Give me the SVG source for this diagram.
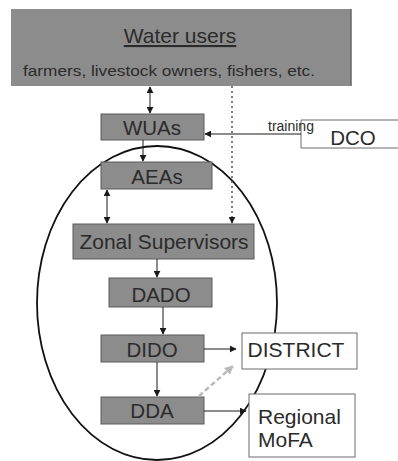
<svg xmlns="http://www.w3.org/2000/svg" width="398" height="461" viewBox="0 0 398 461">
  <style>
    .box { fill: #8c8c8c; stroke: #5a5a5a; stroke-width: 1; }
    .wbox { fill: #ffffff; stroke: #6a6a6a; stroke-width: 1; }
    .lbl { font-family: "Liberation Sans", Arial, sans-serif; font-size: 20.5px; fill: #2b2b2b; text-anchor: middle; }
    .big { font-size: 21px; }
    .sub { font-size: 15.5px; }
    .tiny { font-size: 14px; }
    .lft { text-anchor: start; }
    .ln { stroke: #1a1a1a; stroke-width: 1; fill: none; }
  </style>
  <defs>
    <marker id="ah" viewBox="0 0 10 10" refX="9" refY="5" markerWidth="7" markerHeight="7" markerUnits="userSpaceOnUse" orient="auto-start-reverse">
      <path d="M0,0 L10,5 L0,10 z" fill="#1a1a1a"/>
    </marker>
    <marker id="ahg" viewBox="0 0 10 10" refX="9" refY="5" markerWidth="9" markerHeight="9" markerUnits="userSpaceOnUse" orient="auto">
      <path d="M0,0 L10,5 L0,10 z" fill="#b8b8b8"/>
    </marker>
  </defs>

  <rect width="398" height="461" fill="#ffffff"/>

  <!-- outer boundary ellipse -->
  <ellipse cx="157" cy="303" rx="120" ry="157" fill="none" stroke="#111" stroke-width="1.8"/>

  <g id="water-users">
    <rect x="11" y="9" width="340" height="77" fill="#8c8c8c"/>
    <line x1="351" y1="9" x2="351" y2="86" stroke="#666" stroke-width="1.5"/>
    <text class="lbl big" x="180" y="43" text-decoration="underline">Water users</text>
    <text class="lbl sub" x="169" y="76" textLength="292" lengthAdjust="spacingAndGlyphs">farmers, livestock owners, fishers, etc.</text>
  </g>

  <g id="wuas">
    <rect class="box" x="101" y="114" width="103" height="26"/>
    <text class="lbl" x="152" y="135">WUAs</text>
  </g>

  <g id="dco">
    <path class="wbox" d="M301,148 V120 H398 M301,148 H398" />
    <text class="lbl" x="353" y="145">DCO</text>
  </g>

  <g id="aeas">
    <rect class="box" x="101" y="162" width="111" height="27"/>
    <text class="lbl" x="157" y="184">AEAs</text>
  </g>

  <g id="zonal">
    <rect class="box" x="73" y="224" width="181" height="35"/>
    <text class="lbl big" x="164" y="249">Zonal Supervisors</text>
  </g>

  <g id="dado">
    <rect class="box" x="109" y="278" width="103" height="29"/>
    <text class="lbl" x="161" y="302">DADO</text>
  </g>

  <g id="dido">
    <rect class="box" x="101" y="335" width="103" height="27"/>
    <text class="lbl" x="152" y="357">DIDO</text>
  </g>

  <g id="dda">
    <rect class="box" x="101" y="397" width="103" height="27"/>
    <text class="lbl" x="152" y="418">DDA</text>
  </g>

  <g id="district">
    <rect class="wbox" x="242" y="333" width="115" height="36"/>
    <text class="lbl big" x="296" y="357">DISTRICT</text>
  </g>

  <g id="regional-mofa">
    <rect class="wbox" x="249" y="394" width="106" height="63"/>
    <text class="lbl big lft" x="258" y="424">Regional</text>
    <text class="lbl big lft" x="258" y="447">MoFA</text>
  </g>

  <g id="connectors">
    <!-- water users <-> WUAs -->
    <line class="ln" x1="150" y1="87" x2="150" y2="113" marker-start="url(#ah)" marker-end="url(#ah)"/>
    <!-- water users to zonal supervisors (dotted) -->
    <line x1="232" y1="86" x2="232" y2="223" stroke="#555" stroke-width="1.5" stroke-dasharray="2,3" marker-end="url(#ah)"/>
    <!-- DCO training to WUAs -->
    <line class="ln" x1="301" y1="134" x2="205" y2="134" marker-end="url(#ah)"/>
    <text class="lbl tiny lft" x="268" y="131">training</text>
    <!-- WUAs to AEAs -->
    <line class="ln" x1="143" y1="140" x2="143" y2="161" marker-end="url(#ah)"/>
    <!-- AEAs <-> Zonal -->
    <line class="ln" x1="107" y1="190" x2="107" y2="223" marker-start="url(#ah)" marker-end="url(#ah)"/>
    <!-- Zonal to DADO -->
    <line class="ln" x1="157" y1="259" x2="157" y2="277" marker-end="url(#ah)"/>
    <!-- DADO to DIDO -->
    <line class="ln" x1="163" y1="307" x2="163" y2="334" marker-end="url(#ah)"/>
    <!-- DIDO to DISTRICT -->
    <line class="ln" x1="204" y1="349" x2="236" y2="349" marker-end="url(#ah)"/>
    <!-- DIDO to DDA -->
    <line class="ln" x1="157" y1="362" x2="157" y2="396" marker-end="url(#ah)"/>
    <!-- DDA to DISTRICT (dashed grey) -->
    <line x1="199" y1="396" x2="233" y2="366" stroke="#b8b8b8" stroke-width="2.5" stroke-dasharray="5,3" marker-end="url(#ahg)"/>
    <!-- DDA to Regional MoFA -->
    <line class="ln" x1="204" y1="411" x2="246" y2="411" marker-end="url(#ah)"/>
  </g>
</svg>
